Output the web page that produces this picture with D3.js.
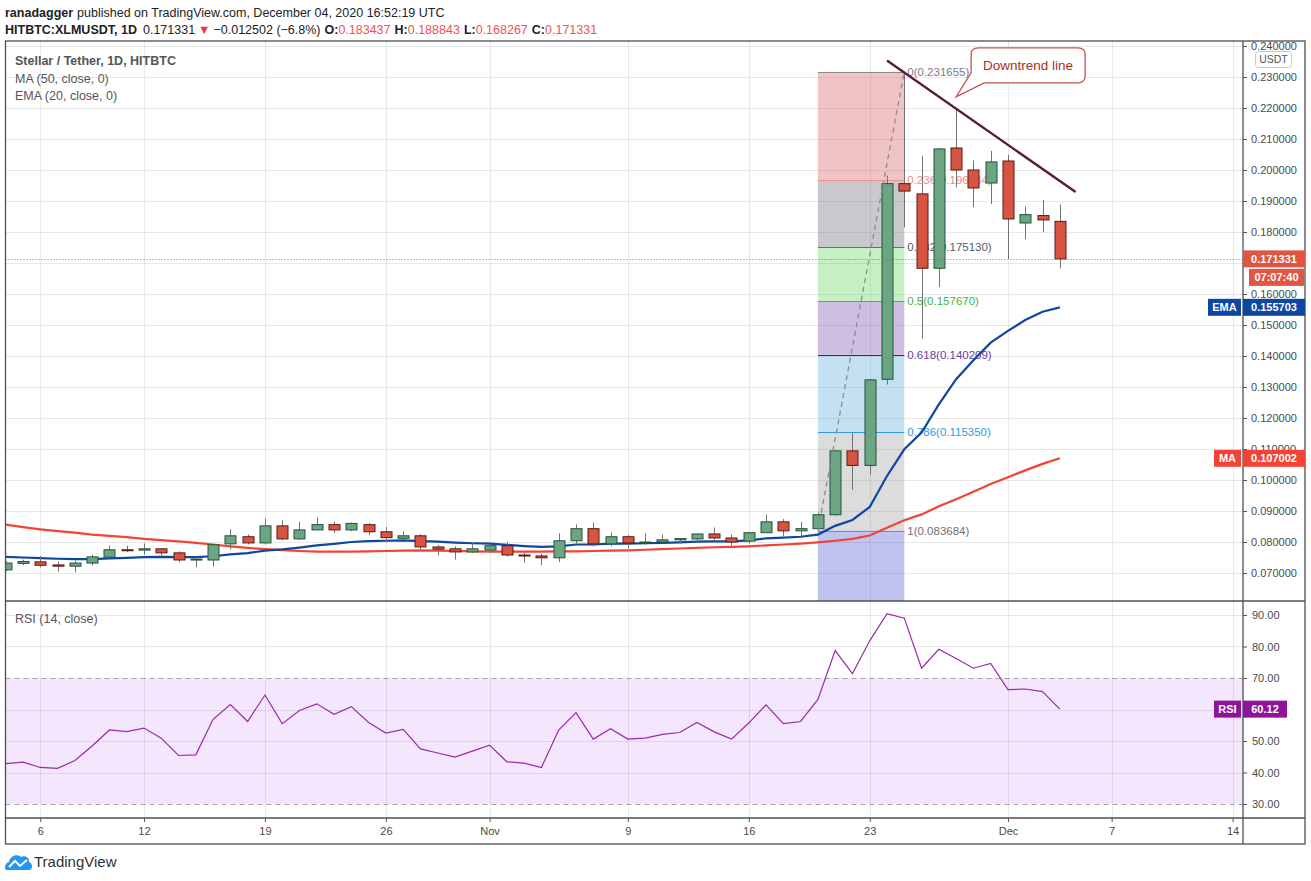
<!DOCTYPE html>
<html>
<head>
<meta charset="utf-8">
<title>XLMUSDT 1D</title>
<script src="https://cdn.jsdelivr.net/npm/d3@7"></script>
<style>
  body { margin: 0; background: #fff; }
  svg { display: block; }
  text { font-family: "Liberation Sans", Arial, sans-serif; }
</style>
</head>
<body>
<svg id="chart" width="1311" height="881"></svg>
<script>
// daily candles Oct 4 .. Dec 4 2020, HITBTC:XLMUSDT
const days = d3.utcDay.range(new Date(Date.UTC(2020, 9, 4)), new Date(Date.UTC(2020, 11, 5)));

const open = [0.0710, 0.0731, 0.0736, 0.0726, 0.0722, 0.0732, 0.0751, 0.0775, 0.0774, 0.0778, 0.0765, 0.0743, 0.0742, 0.0794,
  0.0817, 0.0797, 0.0852, 0.0810, 0.0839, 0.0856, 0.0839, 0.0856, 0.0833, 0.0812, 0.0820, 0.0784, 0.0778, 0.0768,
  0.0774, 0.0788, 0.0758, 0.0755, 0.0749, 0.0804, 0.0843, 0.0794, 0.0817, 0.0797, 0.0800, 0.0807, 0.0810, 0.0826,
  0.0813, 0.0803, 0.0830, 0.0865, 0.0836, 0.0843, 0.0888, 0.1094, 0.1047, 0.1325, 0.1956, 0.1923, 0.1683, 0.2071,
  0.2000, 0.1958, 0.2029, 0.1829, 0.1853, 0.183437];
const high = [0.0738, 0.0743, 0.0755, 0.0737, 0.0740, 0.0759, 0.0789, 0.0788, 0.0795, 0.0780, 0.0770, 0.0753, 0.0791, 0.0841,
  0.0824, 0.0876, 0.0870, 0.0866, 0.0879, 0.0866, 0.0863, 0.0861, 0.0848, 0.0834, 0.0825, 0.0791, 0.0786, 0.0800,
  0.0795, 0.0800, 0.0765, 0.0762, 0.0828, 0.0857, 0.0863, 0.0831, 0.0823, 0.0828, 0.0824, 0.0811, 0.0826, 0.0847,
  0.0824, 0.0830, 0.0889, 0.0874, 0.0865, 0.0895, 0.1097, 0.1151, 0.1325, 0.1982, 0.2317, 0.2046, 0.2071, 0.2197,
  0.2031, 0.2062, 0.2049, 0.1882, 0.1903, 0.188843];
const low = [0.0705, 0.0725, 0.0718, 0.0704, 0.0702, 0.0724, 0.0750, 0.0767, 0.0759, 0.0753, 0.0735, 0.0718, 0.0721, 0.0776,
  0.0792, 0.0792, 0.0806, 0.0806, 0.0839, 0.0829, 0.0835, 0.0822, 0.0799, 0.0812, 0.0776, 0.0757, 0.0743, 0.0765,
  0.0765, 0.0753, 0.0733, 0.0725, 0.0735, 0.0795, 0.0786, 0.0786, 0.0780, 0.0791, 0.0795, 0.0794, 0.0799, 0.0805,
  0.0789, 0.0795, 0.0830, 0.0819, 0.0814, 0.0837, 0.0885, 0.0968, 0.1017, 0.1308, 0.1815, 0.1456, 0.1622, 0.1944,
  0.1880, 0.1890, 0.1713, 0.1777, 0.1799, 0.168267];
const close = [0.0732, 0.0737, 0.0725, 0.0722, 0.0732, 0.0752, 0.0775, 0.0773, 0.0778, 0.0765, 0.0742, 0.0745, 0.0791, 0.0820,
  0.0797, 0.0852, 0.0810, 0.0839, 0.0856, 0.0839, 0.0860, 0.0833, 0.0814, 0.0820, 0.0784, 0.0777, 0.0768, 0.0778,
  0.0788, 0.0758, 0.0755, 0.0749, 0.0804, 0.0843, 0.0794, 0.0817, 0.0797, 0.0800, 0.0807, 0.0811, 0.0826, 0.0813,
  0.0800, 0.0830, 0.0865, 0.0836, 0.0843, 0.0888, 0.1094, 0.1047, 0.1323, 0.1956, 0.1932, 0.1683, 0.2068, 0.2000,
  0.1942, 0.2026, 0.1842, 0.1856, 0.1839, 0.171331];

const ema20 = [0.0752, 0.0750, 0.0748, 0.0746, 0.0745, 0.0745, 0.0747, 0.0749, 0.0751, 0.0752, 0.0751, 0.0751, 0.0754, 0.0760,
  0.0764, 0.0772, 0.0776, 0.0782, 0.0789, 0.0794, 0.0800, 0.0803, 0.0804, 0.0805, 0.0803, 0.0801, 0.0798, 0.0796,
  0.0795, 0.0791, 0.0787, 0.0784, 0.0786, 0.0792, 0.0792, 0.0795, 0.0795, 0.0796, 0.0797, 0.0799, 0.0801, 0.0802,
  0.0802, 0.0805, 0.0812, 0.0814, 0.0817, 0.0824, 0.0852, 0.0871, 0.0913, 0.1013, 0.1099, 0.1153, 0.1244, 0.1325,
  0.1386, 0.1443, 0.1481, 0.1516, 0.1543, 0.155703];
const ma50 = [0.0856, 0.0848, 0.0841, 0.0835, 0.0830, 0.0824, 0.0820, 0.0816, 0.0810, 0.0806, 0.0802, 0.0797, 0.0792, 0.0786,
  0.0781, 0.0777, 0.0774, 0.0771, 0.0769, 0.0769, 0.0769, 0.0770, 0.0771, 0.0772, 0.0773, 0.0772, 0.0771, 0.0770,
  0.0769, 0.0769, 0.0769, 0.0769, 0.0770, 0.0770, 0.0771, 0.0772, 0.0773, 0.0775, 0.0777, 0.0779, 0.0781, 0.0783,
  0.0784, 0.0786, 0.0789, 0.0792, 0.0795, 0.0799, 0.0804, 0.0810, 0.0821, 0.0846, 0.0870, 0.0889, 0.0915, 0.0938,
  0.0962, 0.0987, 0.1009, 0.1031, 0.1052, 0.107002];
const rsi14 = [42.8, 43.3, 41.6, 41.3, 43.8, 48.4, 53.5, 53.0, 54.1, 50.9, 45.4, 45.6, 56.9, 61.6,
  56.2, 64.6, 55.5, 59.7, 61.8, 58.5, 60.9, 55.9, 52.5, 53.7, 47.5, 46.2, 44.9, 46.8,
  48.7, 43.4, 43.0, 41.6, 53.5, 59.0, 50.6, 53.9, 50.6, 50.9, 52.1, 52.7, 55.9, 52.9,
  50.6, 55.7, 61.5, 55.5, 56.2, 63.2, 78.7, 71.4, 81.8, 90.4, 89.0, 73.1, 79.1, 76.2,
  73.1, 74.6, 66.3, 66.5, 65.7, 60.12];

// 0.17 sits under the last-price tag, so it is left out
const priceTicks = [0.07, 0.08, 0.09, 0.10, 0.11, 0.12, 0.13, 0.14, 0.15, 0.16, 0.18, 0.19, 0.20, 0.21, 0.22, 0.23, 0.24];
const gridTicks = [0.07, 0.08, 0.09, 0.10, 0.11, 0.12, 0.13, 0.14, 0.15, 0.16, 0.17, 0.18, 0.19, 0.20, 0.21, 0.22, 0.23, 0.24];
const rsiTicks = [30, 40, 50, 60, 70, 80, 90];
const tickDates = [[9, 6], [9, 12], [9, 19], [9, 26], [10, 1], [10, 9], [10, 16], [10, 23], [11, 1], [11, 7], [11, 14]]
  .map(([m, d]) => new Date(Date.UTC(2020, m, d)));
const tickLabels = ['6', '12', '19', '26', 'Nov', '9', '16', '23', 'Dec', '7', '14'];

// fib retracement Nov 20 -> Nov 25
const fibRatios = [0, 0.236, 0.382, 0.5, 0.618, 0.786, 1, 1.618];
const fibValues = [0.231655, 0.196734, 0.175130, 0.157670, 0.140209, 0.115350, 0.083684, -0.007762];
const fibStart = new Date(Date.UTC(2020, 10, 20));
const fibEnd = new Date(Date.UTC(2020, 10, 25));
const fibLineColors = ['#8a8a8a', '#ec8f8f', '#6c6c6c', '#4caf50', '#3c2585', '#2f9bdc', '#8a8a8a', '#3f51b5'];
const fibTextColors = ['#7d7d7d', '#f08a8a', '#5a5a5a', '#3db548', '#6a3da3', '#2f9bdc', '#707070', '#3f51b5'];
const fibZoneColors = ['rgba(205,60,60,0.3)', 'rgba(80,80,95,0.31)', 'rgba(60,205,60,0.3)', 'rgba(90,40,160,0.3)',
  'rgba(55,155,210,0.3)', 'rgba(120,120,120,0.26)', 'rgba(45,55,205,0.3)'];

// downtrend line anchors
const trendFrom = [new Date(Date.UTC(2020, 10, 24)), 0.2353];
const trendTo = [new Date(Date.UTC(2020, 11, 4, 22)), 0.1929];
const calloutTip = [new Date(Date.UTC(2020, 10, 28)), 0.2236];

const X0 = 5.5, X1 = 1243, XR = 1305;
const Y0 = 41, YM = 601, YR = 818, YA = 844;

const svg = d3.select('#chart');

const x = d3.scaleUtc()
  .domain([new Date(Date.UTC(2020, 9, 4)), new Date(Date.UTC(2020, 11, 14))])
  .range([5.74, 1232.6]);
const y = d3.scaleLinear().domain([0.060968, 0.241613]).range([YM, Y0]);
const yr = d3.scaleLinear().domain([25.56, 94.44]).range([YR, YM]);

const defs = svg.append('defs');
defs.append('clipPath').attr('id', 'mainClip').append('rect')
  .attr('x', X0).attr('y', Y0).attr('width', X1 - X0).attr('height', YM - Y0);
defs.append('clipPath').attr('id', 'rsiClip').append('rect')
  .attr('x', X0).attr('y', YM).attr('width', X1 - X0).attr('height', YR - YM);
defs.append('clipPath').attr('id', 'axisClip').append('rect')
  .attr('x', X1).attr('y', Y0).attr('width', XR - X1).attr('height', YM - Y0);

// rsi band
const rsiG = svg.append('g').attr('clip-path', 'url(#rsiClip)');
rsiG.append('rect').attr('x', X0).attr('width', X1 - X0)
  .attr('y', yr(70)).attr('height', yr(30) - yr(70)).attr('fill', '#f3e6fd');

// grid
const grid = svg.append('g').attr('stroke', 'rgba(0,0,0,0.085)').attr('stroke-width', 1);
grid.append('g').attr('clip-path', 'url(#mainClip)')
  .selectAll('line').data(gridTicks).join('line')
  .attr('x1', X0).attr('x2', X1)
  .attr('y1', d => Math.round(y(d)) + 0.5).attr('y2', d => Math.round(y(d)) + 0.5);
grid.append('g').selectAll('line').data(rsiTicks.filter(d => d !== 30 && d !== 70)).join('line')
  .attr('x1', X0).attr('x2', X1)
  .attr('y1', d => Math.round(yr(d)) + 0.5).attr('y2', d => Math.round(yr(d)) + 0.5);
grid.append('g').selectAll('line').data(tickDates).join('line')
  .attr('x1', d => Math.round(x(d)) + 0.5).attr('x2', d => Math.round(x(d)) + 0.5)
  .attr('y1', Y0).attr('y2', YR);

rsiG.selectAll('.band').data([70, 30]).join('line')
  .attr('x1', X0).attr('x2', X1)
  .attr('y1', d => Math.round(yr(d)) + 0.5).attr('y2', d => Math.round(yr(d)) + 0.5)
  .attr('stroke', '#a5a5a5').attr('stroke-dasharray', '5,4');

// main pane content
const main = svg.append('g').attr('clip-path', 'url(#mainClip)');

const fx0 = x(fibStart), fx1 = x(fibEnd);
main.selectAll('.fz').data(fibZoneColors).join('rect')
  .attr('x', fx0).attr('width', fx1 - fx0)
  .attr('y', (d, i) => y(fibValues[i]))
  .attr('height', (d, i) => y(fibValues[i + 1]) - y(fibValues[i]))
  .attr('fill', d => d);
main.selectAll('.fl').data(fibValues).join('line')
  .attr('x1', fx0).attr('x2', fx1)
  .attr('y1', d => Math.round(y(d)) + 0.5).attr('y2', d => Math.round(y(d)) + 0.5)
  .attr('stroke', (d, i) => fibLineColors[i]).attr('stroke-width', 1.2);
main.selectAll('.ft').data(fibValues.slice(0, 7)).join('text')
  .attr('x', fx1 + 3).attr('y', d => y(d)).attr('dy', '0.35em')
  .attr('fill', (d, i) => fibTextColors[i])
  .style('font-size', '11.5px')
  .text((d, i) => `${fibRatios[i]}(${d.toFixed(6)})`);

const line = vals => d3.line().x((d, i) => x(days[i])).y(d => y(d))(vals);
main.append('path').attr('d', line(ma50)).attr('fill', 'none')
  .attr('stroke', '#f44336').attr('stroke-width', 2.2);
main.append('path').attr('d', line(ema20)).attr('fill', 'none')
  .attr('stroke', '#0d47a1').attr('stroke-width', 2.2);

// candles
const candles = main.selectAll('.c').data(days).join('g');
candles.append('line')
  .attr('x1', d => Math.round(x(d)) + 0.5).attr('x2', d => Math.round(x(d)) + 0.5)
  .attr('y1', (d, i) => y(high[i])).attr('y2', (d, i) => y(low[i]))
  .attr('stroke', '#737373').attr('stroke-width', 1);
candles.append('rect')
  .attr('x', d => Math.round(x(d)) - 5)
  .attr('width', 11)
  .attr('y', (d, i) => y(Math.max(open[i], close[i])))
  .attr('height', (d, i) => Math.max(1, Math.abs(y(open[i]) - y(close[i]))))
  .attr('fill', (d, i) => close[i] >= open[i] ? '#6ba583' : '#d75442')
  .attr('stroke', (d, i) => close[i] >= open[i] ? '#225437' : '#5b1a13')
  .attr('stroke-width', 1);

// fib trend (dashed)
main.append('line')
  .attr('x1', fx0).attr('y1', y(fibValues[6])).attr('x2', fx1).attr('y2', y(fibValues[0]))
  .attr('stroke', '#8c8c8c').attr('stroke-width', 1.3).attr('stroke-dasharray', '5,4');

// downtrend line
main.append('line')
  .attr('x1', x(trendFrom[0])).attr('y1', y(trendFrom[1]))
  .attr('x2', x(trendTo[0])).attr('y2', y(trendTo[1]))
  .attr('stroke', '#5a1a3c').attr('stroke-width', 2.4);

// callout
const tx = x(calloutTip[0]), ty = y(calloutTip[1]);
const bx0 = tx + 15, bx1 = tx + 129, by0 = ty - 49, by1 = ty - 14, r = 7;
svg.append('path')
  .attr('d', `M${bx0 + r},${by0} H${bx1 - r} Q${bx1},${by0} ${bx1},${by0 + r} V${by1 - r} Q${bx1},${by1} ${bx1 - r},${by1}
    H${bx0 + 13} L${tx},${ty} L${bx0},${by1 - 10} V${by0 + r} Q${bx0},${by0} ${bx0 + r},${by0} Z`)
  .attr('fill', '#fff').attr('stroke', '#c45552').attr('stroke-width', 1.3);
svg.append('text').attr('x', (bx0 + bx1) / 2).attr('y', (by0 + by1) / 2).attr('dy', '0.35em')
  .attr('text-anchor', 'middle').attr('fill', '#b02a2a').style('font-size', '13.5px')
  .text('Downtrend line');

// last price dotted line
main.append('line')
  .attr('x1', X0).attr('x2', X1)
  .attr('y1', Math.round(y(close[close.length - 1])) + 0.5).attr('y2', Math.round(y(close[close.length - 1])) + 0.5)
  .attr('stroke', '#e0533f').attr('stroke-width', 1).attr('stroke-dasharray', '1,2');

// rsi line
rsiG.append('path')
  .attr('d', d3.line().x((d, i) => x(days[i])).y(d => yr(d))(rsi14))
  .attr('fill', 'none').attr('stroke', '#9a2aa8').attr('stroke-width', 1.2);

// frame
const frame = svg.append('g').attr('stroke', '#4f4f4f').attr('stroke-width', 1.3).attr('fill', 'none');
frame.append('rect').attr('x', X0).attr('y', Y0).attr('width', XR - X0).attr('height', YA - Y0);
frame.append('line').attr('x1', X1).attr('x2', X1).attr('y1', Y0).attr('y2', YA);
frame.append('line').attr('x1', X0).attr('x2', XR).attr('y1', YM).attr('y2', YM);
frame.append('line').attr('x1', X0).attr('x2', XR).attr('y1', YR).attr('y2', YR);

// axes
function styleAxis(g) {
  g.select('.domain').remove();
  g.selectAll('line').attr('stroke', '#555');
  g.selectAll('text').attr('fill', '#4a4a4a').style('font-size', '11px')
    .style('font-family', '"Liberation Sans", Arial, sans-serif');
}
svg.append('g').attr('clip-path', 'url(#axisClip)')
  .append('g').attr('transform', `translate(${X1},0)`)
  .call(d3.axisRight(y).tickValues(priceTicks).tickFormat(d3.format('.6f')).tickSize(4).tickPadding(4))
  .call(styleAxis);
svg.append('g').attr('transform', `translate(${X1},0)`)
  .call(d3.axisRight(yr).tickValues(rsiTicks).tickFormat(d3.format('.2f')).tickSize(4).tickPadding(5))
  .call(styleAxis);
svg.append('g').attr('transform', `translate(0,${YR})`)
  .call(d3.axisBottom(x).tickValues(tickDates).tickFormat((d, i) => tickLabels[i]).tickSize(4).tickPadding(5))
  .call(styleAxis);

// USDT box
svg.append('rect').attr('x', 1255.5).attr('y', 51.5).attr('width', 36).attr('height', 16).attr('rx', 3)
  .attr('fill', '#fff').attr('stroke', '#c8c8c8');
svg.append('text').attr('x', 1273.5).attr('y', 59.5).attr('dy', '0.35em').attr('text-anchor', 'middle')
  .attr('fill', '#555').style('font-size', '10.5px').text('USDT');

// value tags
function tag(x0, x1, yc, fill, label, h = 17) {
  svg.append('rect').attr('x', x0).attr('y', yc - h / 2).attr('width', x1 - x0).attr('height', h).attr('fill', fill);
  svg.append('text').attr('x', (x0 + x1) / 2).attr('y', yc).attr('dy', '0.36em').attr('text-anchor', 'middle')
    .attr('fill', '#fff').style('font-size', '11px').style('font-weight', 'bold').text(label);
}
const fmt6 = d3.format('.6f');
const lastY = y(close[close.length - 1]);
tag(X1, XR, lastY, '#e25542', fmt6(close[close.length - 1]));
tag(1249, 1304, lastY + 18.5, '#e25542', '07:07:40');
tag(1208, 1241, y(ema20[ema20.length - 1]), '#0d47a1', 'EMA');
tag(X1, XR, y(ema20[ema20.length - 1]), '#0d47a1', fmt6(ema20[ema20.length - 1]));
tag(1214, 1241, y(ma50[ma50.length - 1]), '#f44336', 'MA');
tag(X1, XR, y(ma50[ma50.length - 1]), '#f44336', fmt6(ma50[ma50.length - 1]));
tag(1214, 1241, yr(rsi14[rsi14.length - 1]), '#8e1599', 'RSI');
tag(X1, 1287, yr(rsi14[rsi14.length - 1]), '#8e1599', d3.format('.2f')(rsi14[rsi14.length - 1]));

// header
const h1 = svg.append('text').attr('x', 5).attr('y', 17).attr('fill', '#222').style('font-size', '12.5px');
h1.append('tspan').style('font-weight', 'bold').text('ranadagger');
h1.append('tspan').attr('dx', 4).text('published on TradingView.com, December 04, 2020 16:52:19 UTC');

const h2 = svg.append('text').attr('x', 5).attr('y', 34).attr('fill', '#222').style('font-size', '12.5px');
const red = '#ef5350';
[
  ['HITBTC:XLMUSDT, 1D', 'bold', '#222', 0],
  ['0.171331', 'normal', '#222', 6],
  ['▼', 'normal', '#f23645', 3],
  ['\u22120.012502 (\u22126.8%)', 'normal', '#222', 3],
  ['O:', 'bold', '#222', 4], ['0.183437', 'normal', red, 0],
  ['H:', 'bold', '#222', 4], ['0.188843', 'normal', red, 0],
  ['L:', 'bold', '#222', 4], ['0.168267', 'normal', red, 0],
  ['C:', 'bold', '#222', 4], ['0.171331', 'normal', red, 0]
].forEach(([t, w, c, dx]) => {
  h2.append('tspan').attr('dx', dx).style('font-weight', w).attr('fill', c).text(t);
});

// pane legends
svg.append('text').attr('x', 15).attr('y', 61).attr('dy', '0.35em').attr('fill', '#555')
  .style('font-size', '12.5px').style('font-weight', 'bold').text('Stellar / Tether, 1D, HITBTC');
svg.append('text').attr('x', 15).attr('y', 79).attr('dy', '0.35em').attr('fill', '#555')
  .style('font-size', '12.5px').text('MA (50, close, 0)');
svg.append('text').attr('x', 15).attr('y', 96).attr('dy', '0.35em').attr('fill', '#555')
  .style('font-size', '12.5px').text('EMA (20, close, 0)');
svg.append('text').attr('x', 15).attr('y', 619).attr('dy', '0.35em').attr('fill', '#555')
  .style('font-size', '12.5px').text('RSI (14, close)');

// TradingView logo
const logo = svg.append('g');
logo.append('path')
  .attr('d', 'M7,870 C4,870 4,863 9,862 C10,856 17,853 21,857 C25,855 30,858 29,862 C33,863 33,870 29,870 Z')
  .attr('fill', '#2196f3');
logo.append('polyline').attr('points', '9,867 15,861 20,866 27,860')
  .attr('fill', 'none').attr('stroke', '#fff').attr('stroke-width', 2);
svg.append('text').attr('x', 34).attr('y', 862).attr('dy', '0.35em').attr('fill', '#333')
  .style('font-size', '15px').text('TradingView');
</script>
</body>
</html>
